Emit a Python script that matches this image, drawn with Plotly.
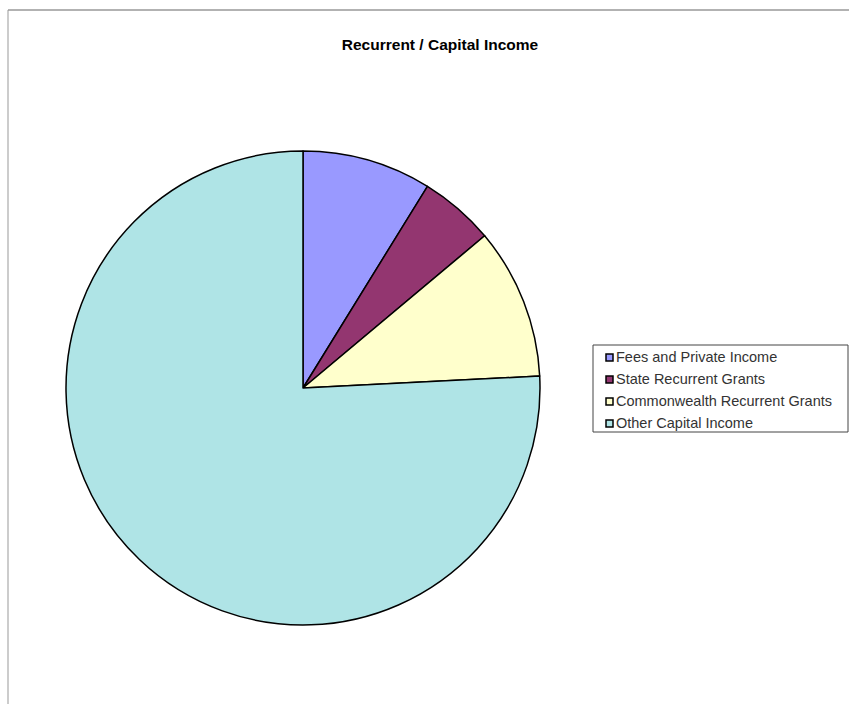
import plotly.graph_objects as go

labels = ["Fees and Private Income", "State Recurrent Grants",
          "Commonwealth Recurrent Grants", "Other Capital Income"]
values = [8.8, 5.1, 10.3, 75.8]
colors = ["#9999FF", "#933670", "#FFFFCC", "#AFE4E6"]

# body margin is removed below, so the figure fills the 849x704 window
W, H = 849, 704


def px(x):
    return x / W


def py(y):
    return 1 - y / H


cx, cy, r = 303, 388, 237

fig = go.Figure(go.Pie(
    labels=labels, values=values, sort=False, direction="clockwise", rotation=0,
    marker=dict(colors=colors, line=dict(color="black", width=1.5)),
    textinfo="none", hoverinfo="label+percent", showlegend=False,
    domain=dict(x=[px(cx - r), px(cx + r)], y=[py(cy + r), py(cy - r)]),
))

shapes = [
    dict(type="line", xref="paper", yref="paper", x0=px(8), x1=1, y0=py(10), y1=py(10),
         line=dict(color="#999", width=1.5)),
    dict(type="line", xref="paper", yref="paper", x0=px(8), x1=px(8), y0=0, y1=py(10),
         line=dict(color="#999", width=1)),
    # legend box
    dict(type="rect", xref="paper", yref="paper", x0=px(593), x1=px(848), y0=py(432), y1=py(345),
         line=dict(color="#444", width=1), fillcolor="white"),
]
annotations = []
item_y = [357, 379, 401, 423]
for lab, col, yy in zip(labels, colors, item_y):
    shapes.append(dict(type="rect", xref="paper", yref="paper",
                       x0=px(606), x1=px(613), y0=py(yy + 4), y1=py(yy - 3),
                       line=dict(color="black", width=1.5), fillcolor=col))
    annotations.append(dict(text=lab, xref="paper", yref="paper", x=px(614), y=py(yy),
                            xanchor="left", yanchor="middle", showarrow=False,
                            font=dict(size=14.5, color="#333")))

fig.update_layout(
    width=W, height=H, margin=dict(l=0, r=0, t=0, b=0),
    paper_bgcolor="white", plot_bgcolor="white",
    font=dict(family="Liberation Sans, Arial, sans-serif", color="#222"),
    title=dict(text="<b>Recurrent / Capital Income</b>", x=px(440), xanchor="center",
               y=py(45), yanchor="middle", font=dict(size=15.5, color="black")),
    shapes=shapes, annotations=annotations,
)

fig.write_html("out.html", config={"displayModeBar": False},
               post_script="document.body.style.margin='0';document.body.style.overflow='hidden';")
